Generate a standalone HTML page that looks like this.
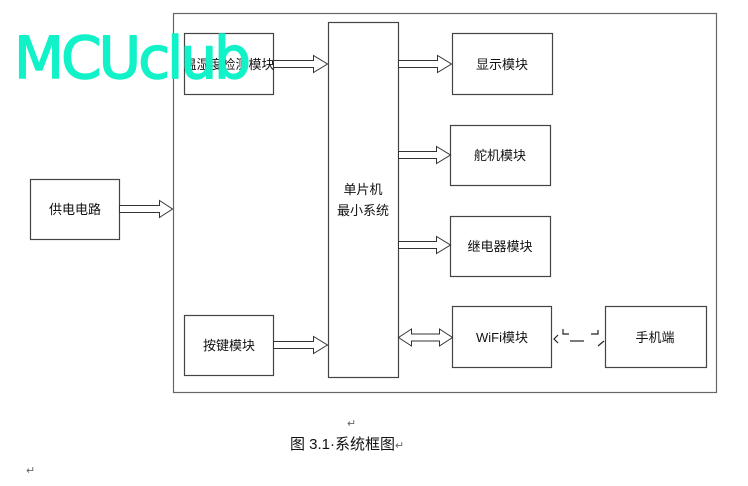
<!DOCTYPE html>
<html><head><meta charset="utf-8"><style>
html,body{margin:0;padding:0;background:#fff;width:748px;height:486px;overflow:hidden}
svg text{font-family:"Liberation Sans","Noto Sans CJK SC",sans-serif;font-size:13px;fill:#111}
</style></head><body>
<svg width="748" height="486" viewBox="0 0 748 486" xmlns="http://www.w3.org/2000/svg">
<g fill="#fff" stroke="#444" stroke-width="1.2">
<rect x="173.5" y="13.5" width="543" height="379" stroke="#666"/>
<rect x="184.5" y="33.5" width="89" height="61"/>
<rect x="328.5" y="22.5" width="70" height="355"/>
<rect x="452.5" y="33.5" width="100" height="61"/>
<rect x="450.5" y="125.5" width="100" height="60"/>
<rect x="450.5" y="216.5" width="100" height="60"/>
<rect x="452.5" y="306.5" width="99" height="61"/>
<rect x="605.5" y="306.5" width="101" height="61"/>
<rect x="30.5" y="179.5" width="89" height="60"/>
<rect x="184.5" y="315.5" width="89" height="60"/>
</g>
<g fill="#fff" stroke="#333" stroke-width="1">
<path d="M273.5 60.5h40v-5l14 8.5-14 8.5v-5h-40z"/>
<path d="M119.5 205.5h40v-5l13 8.5-13 8.5v-5h-40z"/>
<path d="M273.5 341.5h40v-5l14 8.5-14 8.5v-5h-40z"/>
<path d="M398.5 60.5h39v-5l14 8.5-14 8.5v-5h-39z"/>
<path d="M398.5 151.5h38v-5l14 8.5-14 8.5v-5h-38z"/>
<path d="M398.5 241.5h38v-5l14 8.5-14 8.5v-5h-38z"/>
<path d="M398.5 337.5l13-8.5v5h28v-5l13 8.5-13 8.5v-5h-28v5z"/>
</g>
<g fill="none" stroke="#222" stroke-width="1.2">
<path d="M558 335l-4 4 4 4"/>
<path d="M563 329v5h6"/>
<path d="M570 341h14"/>
<path d="M591 334h7v-4"/>
<path d="M598 346l6-5"/>
</g>
<text x="229" y="69" text-anchor="middle">温湿度检测模块</text>
<text x="363" y="194" text-anchor="middle">单片机</text>
<text x="363" y="215" text-anchor="middle">最小系统</text>
<text x="502" y="69" text-anchor="middle">显示模块</text>
<text x="500" y="160" text-anchor="middle">舵机模块</text>
<text x="500" y="251" text-anchor="middle">继电器模块</text>
<text x="502" y="342" text-anchor="middle">WiFi模块</text>
<text x="655" y="342" text-anchor="middle">手机端</text>
<text x="75" y="214" text-anchor="middle">供电电路</text>
<text x="229" y="350" text-anchor="middle">按键模块</text>
<text x="347" y="427" style="font-size:11px;fill:#666">↵</text>
<text x="290" y="449" style="font-size:15px">图 3.1·系统框图<tspan style="font-size:11px;fill:#666">↵</tspan></text>
<text x="26" y="474" style="font-size:11px;fill:#666">↵</text>
<text x="14" y="78" style="font-family:'DejaVu Sans',sans-serif;font-size:58px;fill:#12f2c8;stroke:#12f2c8;stroke-width:1.5;stroke-linejoin:round;letter-spacing:-1px" textLength="236">MCUclub</text>
</svg>
</body></html>
